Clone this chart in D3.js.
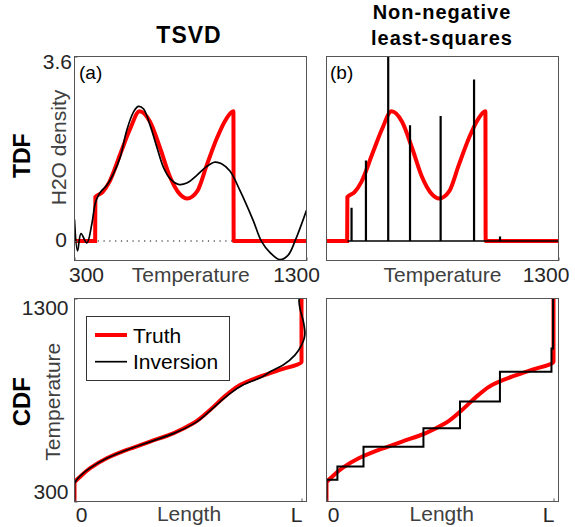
<!DOCTYPE html>
<html>
<head>
<meta charset="utf-8">
<script src="https://cdn.jsdelivr.net/npm/d3@7"></script>
<style>
  body { margin: 0; background: #fff; }
  text { font-family: "Liberation Sans", Arial, Helvetica, sans-serif; }
</style>
</head>
<body>
<div id="chart"></div>
<script>
// ---- values ----
// true temperature distribution: temperature vs H2O density
const truthT = [300, 389, 390, 420, 450, 500, 540, 580, 625, 670, 710, 755, 785, 830, 870, 915, 955, 985, 986, 1300];
const truthH = [0, 0, 0.86, 0.95, 1.15, 1.73, 2.19, 2.53, 2.33, 1.80, 1.27, 0.91, 0.83, 0.98, 1.48, 2.02, 2.39, 2.53, 0, 0];

// TSVD inversion
const tsvdT = [300, 313, 328, 353, 375, 389, 403, 418, 439, 468, 497, 525, 554, 575, 597, 626, 655, 683, 712, 748,
               784, 827, 870, 905, 934, 970, 1013, 1070, 1106, 1142, 1185, 1220, 1250, 1300];
const tsvdH = [0.42, -0.195, 0.144, -0.039, 0.339, 0.729, 0.891, 0.988, 1.086, 1.314, 1.637, 2.158, 2.515, 2.626, 2.581, 2.256, 1.832, 1.442, 1.216, 1.105,
               1.131, 1.281, 1.456, 1.540, 1.509, 1.365, 0.988, 0.404, -0.006, -0.22, -0.363, -0.28, -0.006, 0.598];

// non-negative least-squares spikes
const nnlsT = [408, 470, 566, 660, 792, 936, 1048];
const nnlsH = [0.65, 1.57, 3.69, 2.26, 2.44, 3.15, 0.09];
const nnlsBase = [390, 1300];

// cumulative curves: length (0..L, L = 1) vs temperature
const cdfTruthL = [0, 0, 0.026, 0.069, 0.142, 0.23, 0.333, 0.435, 0.523, 0.597, 0.670, 0.729, 0.817, 0.904, 1.0, 1.0];
const cdfTruthT = [300, 390, 423, 464, 513, 554, 595, 636, 685, 751, 825, 874, 915, 948, 988, 1300];

const cdfTsvdL = [0, 0, 0.02, 0.065, 0.14, 0.23, 0.335, 0.44, 0.53, 0.60, 0.675, 0.74, 0.83, 0.861, 0.919, 0.971, 1.0, 1.015, 1.007, 0.993, 0.989, 0.992];
const cdfTsvdT = [300, 385, 420, 462, 512, 554, 595, 637, 686, 750, 823, 873, 916, 939, 972, 1021, 1070, 1128, 1193, 1251, 1292, 1300];

const cdfNnlsL = [0, 0.048, 0.163, 0.427, 0.588, 0.764, 0.991, 0.998, 0.998];
const cdfNnlsT = [300, 407, 472, 570, 661, 792, 939, 1054, 1300];

// ticks
const tdfTicksT = [300, 1300];
const tdfTicksH = [0, 3.6];
const cdfTicksL = [0, 1];
const cdfTickNames = ["0", "L"];
const cdfTicksT = [300, 1300];

// ---- layout ----
const width = 575, height = 527;
const cols = [{ x0: 74.5, x1: 306.5 }, { x0: 326.5, x1: 558.5 }];
const rows = [{ y0: 56.5, y1: 260.5 }, { y0: 298.5, y1: 501.5 }];
const red = "#ff0000", frame = "#555", tickCol = "#262626", labCol = "#404040";

const svg = d3.select("#chart").append("svg")
  .attr("width", width).attr("height", height);

const zip = (a, b) => a.map((v, i) => [v, b[i]]);

function panel(c, r, id) {
  svg.append("clipPath").attr("id", id)
    .append("rect").attr("x", c.x0).attr("y", r.y0)
    .attr("width", c.x1 - c.x0).attr("height", r.y1 - r.y0);
  svg.append("rect").attr("x", c.x0).attr("y", r.y0)
    .attr("width", c.x1 - c.x0).attr("height", r.y1 - r.y0)
    .attr("fill", "#fff");
  return svg.append("g").attr("clip-path", `url(#${id})`);
}
function border(c, r) {
  svg.append("rect").attr("x", c.x0).attr("y", r.y0)
    .attr("width", c.x1 - c.x0).attr("height", r.y1 - r.y0)
    .attr("fill", "none").attr("stroke", frame).attr("stroke-width", 1);
}
function styleAxis(ax) {
  ax.select(".domain").remove();
  ax.selectAll(".tick line").attr("stroke", frame);
  ax.selectAll(".tick text").attr("font-size", 21).attr("fill", tickCol);
}

// scales
const xT = cols.map(c => d3.scaleLinear().domain([300, 1300]).range([c.x0, c.x1]));
const yH = d3.scaleLinear().domain([-0.38, 3.6]).range([rows[0].y1, rows[0].y0]);
const xL = cols.map(c => d3.scaleLinear().domain([0, 1.022]).range([c.x0, c.x1]));
const yT = d3.scaleLinear().domain([300, 1300]).range([rows[1].y1, rows[1].y0]);

// ---------- (a) TSVD, TDF ----------
{
  const g = panel(cols[0], rows[0], "clipA");
  const x = xT[0];
  g.append("line")
    .attr("x1", x(300)).attr("x2", x(1300)).attr("y1", yH(0)).attr("y2", yH(0))
    .attr("stroke", "#000").attr("stroke-width", 1.2).attr("stroke-dasharray", "1.2,4.6");
  g.append("path").datum(zip(truthT, truthH))
    .attr("fill", "none").attr("stroke", red).attr("stroke-width", 4)
    .attr("d", d3.line().x(d => x(d[0])).y(d => yH(d[1])).curve(d3.curveMonotoneX));
  g.append("path").datum(zip(tsvdT, tsvdH))
    .attr("fill", "none").attr("stroke", "#000").attr("stroke-width", 1.7)
    .attr("d", d3.line().x(d => x(d[0])).y(d => yH(d[1])).curve(d3.curveCatmullRom.alpha(0.5)));
  border(cols[0], rows[0]);

  const ax = svg.append("g").attr("transform", `translate(0,${rows[0].y1})`)
    .call(d3.axisBottom(x).tickValues(tdfTicksT).tickFormat(d3.format("d")).tickSize(-3).tickPadding(7));
  styleAxis(ax);
  ax.selectAll(".tick text").attr("dx", (d, i) => [11.5, -10.5][i]);

  const ay = svg.append("g").attr("transform", `translate(${cols[0].x0},0)`)
    .call(d3.axisLeft(yH).tickValues(tdfTicksH).tickFormat(d => d === 0 ? "0" : d3.format(".1f")(d)).tickSize(-3).tickPadding(5));
  styleAxis(ay);
  ay.selectAll(".tick text").attr("dx", (d, i) => [-2.5, 2.5][i]).attr("y", (d, i) => [-1.5, 5][i]);
}

// ---------- (b) NNLS, TDF ----------
{
  const g = panel(cols[1], rows[0], "clipB");
  const x = xT[1];
  g.append("path").datum(zip(truthT, truthH))
    .attr("fill", "none").attr("stroke", red).attr("stroke-width", 4)
    .attr("d", d3.line().x(d => x(d[0])).y(d => yH(d[1])).curve(d3.curveMonotoneX));
  g.append("line")
    .attr("x1", x(nnlsBase[0])).attr("x2", x(nnlsBase[1])).attr("y1", yH(0)).attr("y2", yH(0))
    .attr("stroke", "#000").attr("stroke-width", 1.6);
  g.selectAll(".spike").data(zip(nnlsT, nnlsH)).join("line")
    .attr("class", "spike")
    .attr("x1", d => x(d[0])).attr("x2", d => x(d[0]))
    .attr("y1", yH(0)).attr("y2", d => yH(d[1]))
    .attr("stroke", "#000").attr("stroke-width", 2.2);
  border(cols[1], rows[0]);

  const ax = svg.append("g").attr("transform", `translate(0,${rows[0].y1})`)
    .call(d3.axisBottom(x).tickValues([tdfTicksT[1]]).tickFormat(d3.format("d")).tickSize(-3).tickPadding(7));
  styleAxis(ax);
  ax.selectAll(".tick text").attr("dx", -13);
}

// ---------- (c) TSVD, CDF ----------
{
  const g = panel(cols[0], rows[1], "clipC");
  const x = xL[0];
  g.append("path").datum(zip(cdfTruthL, cdfTruthT))
    .attr("fill", "none").attr("stroke", red).attr("stroke-width", 4)
    .attr("d", d3.line().x(d => x(d[0])).y(d => yT(d[1])).curve(d3.curveMonotoneY));
  g.append("path").datum(zip(cdfTsvdL, cdfTsvdT))
    .attr("fill", "none").attr("stroke", "#000").attr("stroke-width", 1.7)
    .attr("d", d3.line().x(d => x(d[0])).y(d => yT(d[1])).curve(d3.curveMonotoneY));
  border(cols[0], rows[1]);

  const ax = svg.append("g").attr("transform", `translate(0,${rows[1].y1})`)
    .call(d3.axisBottom(x).tickValues(cdfTicksL).tickFormat((d, i) => cdfTickNames[i]).tickSize(-3).tickPadding(5.5));
  styleAxis(ax);
  ax.selectAll(".tick text").attr("dx", (d, i) => [6.5, -5.5][i]);

  const ay = svg.append("g").attr("transform", `translate(${cols[0].x0},0)`)
    .call(d3.axisLeft(yT).tickValues(cdfTicksT).tickFormat(d3.format("d")).tickSize(-3).tickPadding(6));
  styleAxis(ay);
  ay.selectAll(".tick text").attr("y", (d, i) => [-10, 9.5][i]);

  // legend
  const lg = svg.append("g");
  lg.append("rect").attr("x", 86.5).attr("y", 316.5).attr("width", 143).attr("height", 64)
    .attr("fill", "#fff").attr("stroke", "#333").attr("stroke-width", 1);
  const items = [{ name: "Truth", color: red, w: 4 }, { name: "Inversion", color: "#000", w: 1.7 }];
  items.forEach((it, i) => {
    const yy = 335 + i * 26.7;
    lg.append("line").attr("x1", 95).attr("x2", 127).attr("y1", yy).attr("y2", yy)
      .attr("stroke", it.color).attr("stroke-width", it.w);
    lg.append("text").attr("x", 133).attr("y", yy + 7.5).attr("font-size", 21)
      .attr("fill", "#000").text(it.name);
  });
}

// ---------- (d) NNLS, CDF ----------
{
  const g = panel(cols[1], rows[1], "clipD");
  const x = xL[1];
  g.append("path").datum(zip(cdfTruthL, cdfTruthT))
    .attr("fill", "none").attr("stroke", red).attr("stroke-width", 4)
    .attr("d", d3.line().x(d => x(d[0])).y(d => yT(d[1])).curve(d3.curveMonotoneY));
  g.append("path").datum(zip(cdfNnlsL, cdfNnlsT))
    .attr("fill", "none").attr("stroke", "#000").attr("stroke-width", 2)
    .attr("d", d3.line().x(d => x(d[0])).y(d => yT(d[1])).curve(d3.curveStepBefore));
  border(cols[1], rows[1]);

  const ax = svg.append("g").attr("transform", `translate(0,${rows[1].y1})`)
    .call(d3.axisBottom(x).tickValues(cdfTicksL).tickFormat((d, i) => cdfTickNames[i]).tickSize(-3).tickPadding(5.5));
  styleAxis(ax);
  ax.selectAll(".tick text").attr("dx", (d, i) => [6.5, -5.5][i]);
}

// ---------- text ----------
svg.append("text").attr("x", 189).attr("y", 43.3).attr("text-anchor", "middle")
  .attr("font-size", 23).attr("font-weight", "bold").attr("letter-spacing", 1).text("TSVD");
svg.append("text").attr("x", 442).attr("y", 18.5).attr("text-anchor", "middle")
  .attr("font-size", 20).attr("font-weight", "bold").attr("letter-spacing", 1).text("Non-negative");
svg.append("text").attr("x", 442).attr("y", 45).attr("text-anchor", "middle")
  .attr("font-size", 20).attr("font-weight", "bold").attr("letter-spacing", 1).text("least-squares");

svg.append("text").attr("x", 79).attr("y", 78.5).attr("font-size", 19).text("(a)");
svg.append("text").attr("x", 330).attr("y", 78.5).attr("font-size", 19).text("(b)");

const rot = (x, y, str, size, bold, color) =>
  svg.append("text").attr("transform", `translate(${x},${y}) rotate(-90)`)
    .attr("text-anchor", "middle").attr("font-size", size)
    .attr("font-weight", bold ? "bold" : "normal").attr("fill", color).text(str);

rot(30, 155.7, "TDF", 23, true, "#000");
rot(30, 401.7, "CDF", 24, true, "#000");
rot(66, 147.5, "H2O density", 21, false, labCol);
rot(60, 401.7, "Temperature", 21, false, labCol);

const lab = (x, y, str) => svg.append("text").attr("x", x).attr("y", y)
  .attr("text-anchor", "middle").attr("font-size", 21).attr("fill", labCol).text(str);
lab(190.7, 282, "Temperature");
lab(442.5, 282, "Temperature");
lab(189, 521, "Length");
lab(441.7, 521, "Length");
</script>
</body>
</html>
